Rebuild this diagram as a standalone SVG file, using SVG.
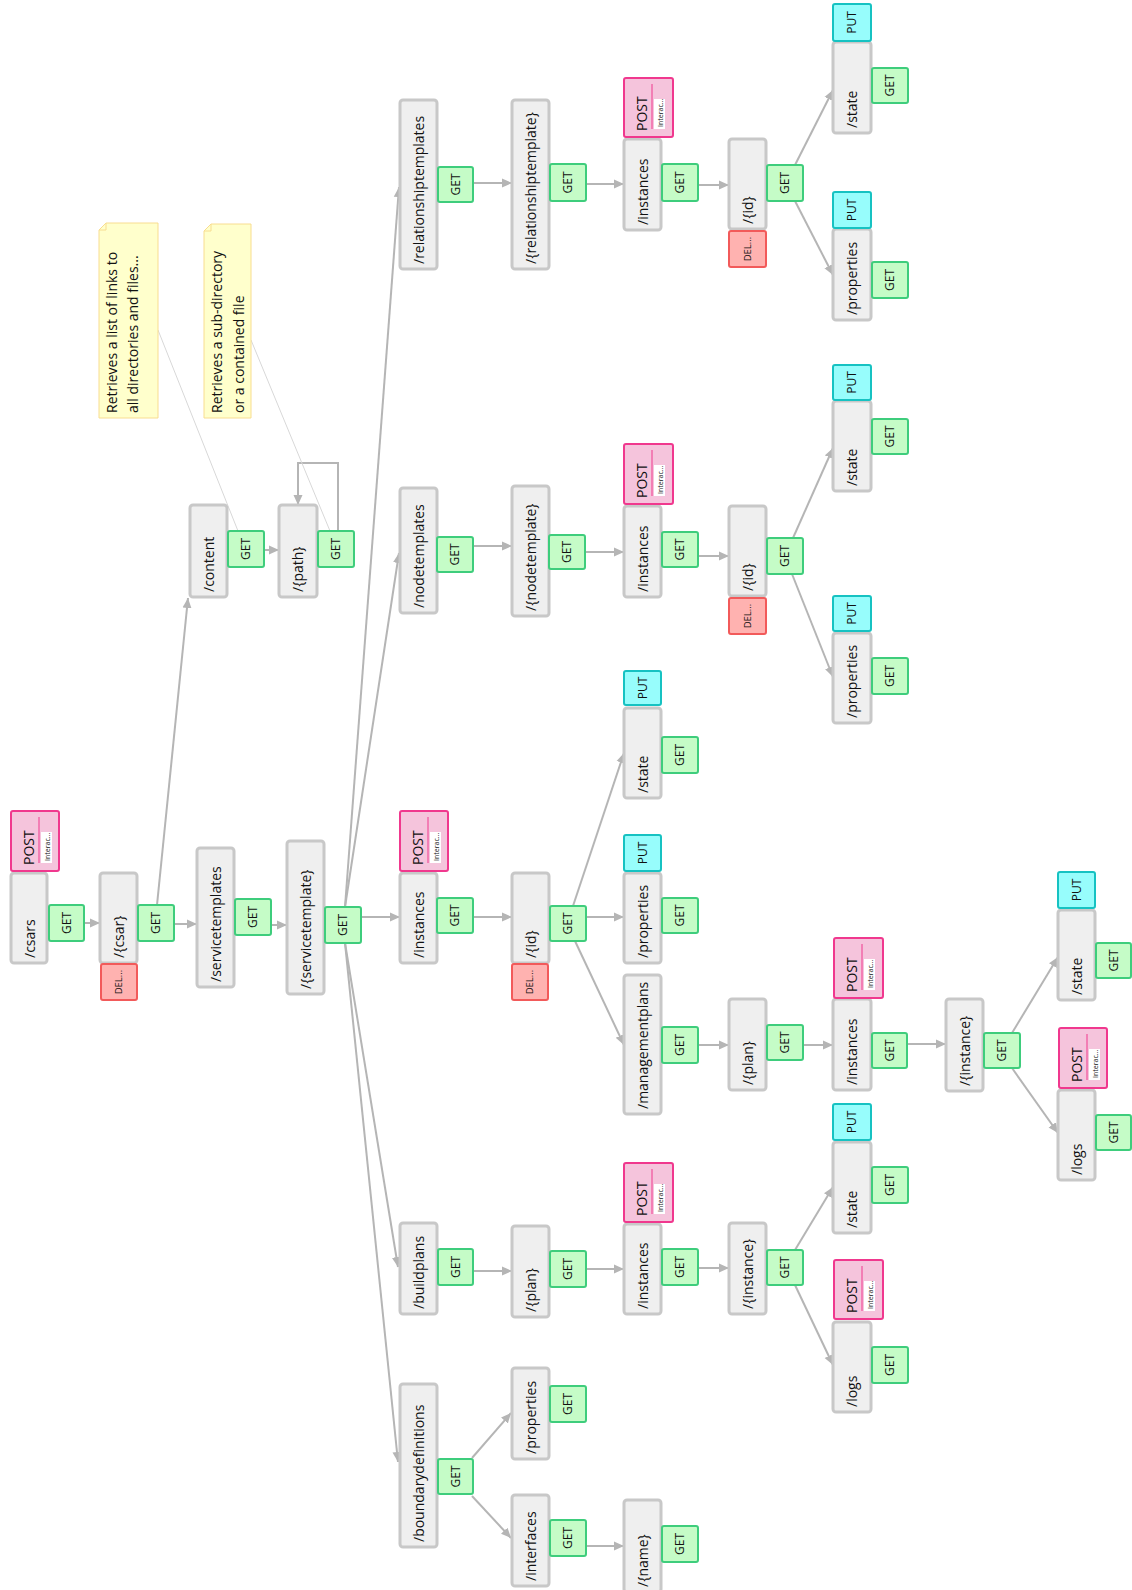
<svg xmlns="http://www.w3.org/2000/svg" width="1132" height="1590" viewBox="0 0 1132 1590">
<defs>
<style>
.t{font-family:"Open Sans","Noto Sans","Liberation Sans",sans-serif;fill:#111}
.lbl{font-size:14px}
.mc{font-size:12px;text-anchor:middle}
.dl{font-size:9.5px;text-anchor:middle}
.res{fill:#efefef;stroke:#c8c8c8;stroke-width:3}
.get rect{fill:#c5fcc7;stroke:#3ecd7c;stroke-width:2}
.put rect{fill:#97fdfc;stroke:#16c2c2;stroke-width:2}
.del rect{fill:#ffb2b0;stroke:#f25a5a;stroke-width:2}
.post>rect.b{fill:#f5c4dc;stroke:#f0388e;stroke-width:2}
.post line{stroke:#f0388e;stroke-width:1}
.post rect.w{fill:#fff}
.post .pt{font-size:14px}
.post .it{font-size:7px}
.note path.b{fill:#ffffcc;stroke:#f8dd90;stroke-width:1}
.note path.f{fill:none;stroke:#f8dd90;stroke-width:1}
.nl{stroke:#d8d8d8;stroke-width:1;fill:none}
</style>
<marker id="ah" markerUnits="userSpaceOnUse" markerWidth="12" markerHeight="10" refX="10" refY="5" orient="auto">
<path d="M0,0.5L10,5L0,9.5z" fill="#b5b5b5"/>
</marker>
</defs>
<rect width="1132" height="1590" fill="#fff"/>

<!-- connectors -->
<g id="connectors" fill="none" stroke="#b5b5b5" stroke-width="2">
<g marker-end="url(#ah)">
<path d="M84,923H100"/>
<path d="M174,924H197"/>
<path d="M157,905L188,598"/>
<path d="M271,925H287"/>
<path d="M264,550H279"/>
<path d="M338,531V463H298V505"/>
<path d="M345,907L399,187"/>
<path d="M345,907L399,553"/>
<path d="M361,917H400"/>
<path d="M345,943L398,1267"/>
<path d="M345,943L398,1462"/>
<path d="M473,183H512"/>
<path d="M586,184H624"/>
<path d="M698,185H729"/>
<path d="M795,165L833,90"/>
<path d="M795,201L833,275"/>
<path d="M473,546H512"/>
<path d="M585,552H624"/>
<path d="M698,556H729"/>
<path d="M793,538L833,448"/>
<path d="M792,574L833,677"/>
<path d="M473,917H512"/>
<path d="M573,906L624,753"/>
<path d="M586,917H624"/>
<path d="M575,941L624,1045"/>
<path d="M698,1045H729"/>
<path d="M803,1045H833"/>
<path d="M907,1044H946"/>
<path d="M1012,1033L1058,957"/>
<path d="M1012,1068L1058,1133"/>
<path d="M473,1271H512"/>
<path d="M586,1269H624"/>
<path d="M698,1268H729"/>
<path d="M795,1250L833,1187"/>
<path d="M795,1285L833,1365"/>
<path d="M472,1458L511,1413"/>
<path d="M472,1496L511,1538"/>
<path d="M586,1546H624"/>
</g>
</g>

<!-- note links -->
<g id="note-links">
<path class="nl" d="M158,330L238,531"/>
<path class="nl" d="M251,340L330,531"/>
</g>

<!-- notes -->
<g id="note-content" class="note">
<path class="b" d="M106,223H158V418H99V230Z"/>
<path class="f" d="M99,230H106V223"/>
<text class="t lbl" transform="translate(117,413) rotate(-90)">Retrieves a list of links to</text>
<text class="t lbl" transform="translate(138,413) rotate(-90)">all directories and files...</text>
</g>
<g id="note-path" class="note">
<path class="b" d="M211,224H251V418H204V231Z"/>
<path class="f" d="M204,231H211V224"/>
<text class="t lbl" transform="translate(222,413) rotate(-90)">Retrieves a sub-directory</text>
<text class="t lbl" transform="translate(244,413) rotate(-90)">or a contained file</text>
</g>

<!-- root -->
<g id="csars">
<rect class="res" x="11" y="873" width="36" height="90" rx="3"/>
<text class="t lbl" transform="translate(35,958) rotate(-90)">/csars</text>
<g class="post"><rect class="b" x="11" y="811" width="48" height="60" rx="2"/><text class="t pt" transform="translate(34,865) rotate(-90)">POST</text><line x1="39" y1="817" x2="39" y2="863"/><rect class="w" x="41" y="832" width="11" height="31"/><text class="t it" transform="translate(49.5,861) rotate(-90)">Interac...</text></g>
<g class="get"><rect x="49" y="905" width="35" height="36" rx="2"/><text class="t mc" transform="translate(70.8,923) rotate(-90)">GET</text></g>
</g>

<g id="csar">
<rect class="res" x="100" y="873" width="37" height="90" rx="3"/>
<text class="t lbl" transform="translate(124,958) rotate(-90)">/{csar}</text>
<g class="del"><rect x="101" y="964" width="36" height="36" rx="2"/><text class="t dl" transform="translate(122.4,982) rotate(-90)">DEL...</text></g>
<g class="get"><rect x="138" y="905" width="36" height="36" rx="2"/><text class="t mc" transform="translate(160.3,923) rotate(-90)">GET</text></g>
</g>

<g id="servicetemplates">
<rect class="res" x="197" y="848" width="37" height="139" rx="3"/>
<text class="t lbl" transform="translate(221,982) rotate(-90)">/servicetemplates</text>
<g class="get"><rect x="235" y="899" width="36" height="36" rx="2"/><text class="t mc" transform="translate(257.3,917) rotate(-90)">GET</text></g>
</g>

<g id="servicetemplate">
<rect class="res" x="287" y="841" width="37" height="153" rx="3"/>
<text class="t lbl" transform="translate(311,989) rotate(-90)">/{servicetemplate}</text>
<g class="get"><rect x="325" y="907" width="36" height="36" rx="2"/><text class="t mc" transform="translate(347.3,925) rotate(-90)">GET</text></g>
</g>

<g id="content">
<rect class="res" x="190" y="505" width="37" height="92" rx="3"/>
<text class="t lbl" transform="translate(214,592) rotate(-90)">/content</text>
<g class="get"><rect x="228" y="531" width="36" height="36" rx="2"/><text class="t mc" transform="translate(250.3,549) rotate(-90)">GET</text></g>
</g>

<g id="path">
<rect class="res" x="279" y="505" width="38" height="92" rx="3"/>
<text class="t lbl" transform="translate(303,592) rotate(-90)">/{path}</text>
<g class="get"><rect x="318" y="531" width="36" height="36" rx="2"/><text class="t mc" transform="translate(340.3,549) rotate(-90)">GET</text></g>
</g>

<!-- relationship templates -->
<g id="relationshiptemplates">
<rect class="res" x="400" y="100" width="37" height="169" rx="3"/>
<text class="t lbl" transform="translate(424,264) rotate(-90)">/relationshiptemplates</text>
<g class="get"><rect x="438" y="167" width="35" height="35" rx="2"/><text class="t mc" transform="translate(459.8,184.5) rotate(-90)">GET</text></g>
</g>

<g id="relationshiptemplate">
<rect class="res" x="512" y="100" width="37" height="169" rx="3"/>
<text class="t lbl" transform="translate(536,264) rotate(-90)">/{relationshiptemplate}</text>
<g class="get"><rect x="550" y="164" width="36" height="37" rx="2"/><text class="t mc" transform="translate(572.3,182.5) rotate(-90)">GET</text></g>
</g>

<g id="rt-instances">
<rect class="res" x="624" y="139" width="37" height="91" rx="3"/>
<text class="t lbl" transform="translate(648,225) rotate(-90)">/instances</text>
<g class="post"><rect class="b" x="624" y="78" width="49" height="59" rx="2"/><text class="t pt" transform="translate(647,131) rotate(-90)">POST</text><line x1="652" y1="84" x2="652" y2="129"/><rect class="w" x="654" y="99" width="11" height="30"/><text class="t it" transform="translate(662.5,127) rotate(-90)">Interac...</text></g>
<g class="get"><rect x="662" y="164" width="36" height="37" rx="2"/><text class="t mc" transform="translate(684.3,182.5) rotate(-90)">GET</text></g>
</g>

<g id="rt-id">
<rect class="res" x="729" y="139" width="37" height="90" rx="3"/>
<text class="t lbl" transform="translate(753,224) rotate(-90)">/{id}</text>
<g class="del"><rect x="729" y="231" width="37" height="36" rx="2"/><text class="t dl" transform="translate(750.9,249) rotate(-90)">DEL...</text></g>
<g class="get"><rect x="767" y="165" width="36" height="36" rx="2"/><text class="t mc" transform="translate(789.3,183) rotate(-90)">GET</text></g>
</g>

<g id="rt-state">
<rect class="res" x="833" y="42" width="38" height="91" rx="3"/>
<text class="t lbl" transform="translate(857,128) rotate(-90)">/state</text>
<g class="put"><rect x="833" y="4" width="38" height="37" rx="2"/><text class="t mc" transform="translate(856.3,22.5) rotate(-90)">PUT</text></g>
<g class="get"><rect x="872" y="68" width="36" height="35" rx="2"/><text class="t mc" transform="translate(894.3,85.5) rotate(-90)">GET</text></g>
</g>

<g id="rt-properties">
<rect class="res" x="833" y="229" width="38" height="91" rx="3"/>
<text class="t lbl" transform="translate(857,315) rotate(-90)">/properties</text>
<g class="put"><rect x="833" y="192" width="38" height="36" rx="2"/><text class="t mc" transform="translate(856.3,210) rotate(-90)">PUT</text></g>
<g class="get"><rect x="872" y="262" width="36" height="36" rx="2"/><text class="t mc" transform="translate(894.3,280) rotate(-90)">GET</text></g>
</g>

<!-- node templates -->
<g id="nodetemplates">
<rect class="res" x="400" y="488" width="37" height="125" rx="3"/>
<text class="t lbl" transform="translate(424,608) rotate(-90)">/nodetemplates</text>
<g class="get"><rect x="437" y="537" width="36" height="35" rx="2"/><text class="t mc" transform="translate(459.3,554.5) rotate(-90)">GET</text></g>
</g>

<g id="nodetemplate">
<rect class="res" x="512" y="486" width="37" height="130" rx="3"/>
<text class="t lbl" transform="translate(536,611) rotate(-90)">/{nodetemplate}</text>
<g class="get"><rect x="549" y="535" width="36" height="34" rx="2"/><text class="t mc" transform="translate(571.3,552) rotate(-90)">GET</text></g>
</g>

<g id="nt-instances">
<rect class="res" x="624" y="506" width="37" height="91" rx="3"/>
<text class="t lbl" transform="translate(648,592) rotate(-90)">/instances</text>
<g class="post"><rect class="b" x="624" y="444" width="49" height="60" rx="2"/><text class="t pt" transform="translate(647,498) rotate(-90)">POST</text><line x1="652" y1="450" x2="652" y2="496"/><rect class="w" x="654" y="465" width="11" height="31"/><text class="t it" transform="translate(662.5,494) rotate(-90)">Interac...</text></g>
<g class="get"><rect x="662" y="532" width="36" height="35" rx="2"/><text class="t mc" transform="translate(684.3,549.5) rotate(-90)">GET</text></g>
</g>

<g id="nt-id">
<rect class="res" x="729" y="506" width="37" height="90" rx="3"/>
<text class="t lbl" transform="translate(753,591) rotate(-90)">/{id}</text>
<g class="del"><rect x="729" y="598" width="37" height="36" rx="2"/><text class="t dl" transform="translate(750.9,616) rotate(-90)">DEL...</text></g>
<g class="get"><rect x="767" y="538" width="36" height="36" rx="2"/><text class="t mc" transform="translate(789.3,556) rotate(-90)">GET</text></g>
</g>

<g id="nt-state">
<rect class="res" x="833" y="401" width="38" height="90" rx="3"/>
<text class="t lbl" transform="translate(857,486) rotate(-90)">/state</text>
<g class="put"><rect x="833" y="365" width="38" height="35" rx="2"/><text class="t mc" transform="translate(856.3,382.5) rotate(-90)">PUT</text></g>
<g class="get"><rect x="872" y="419" width="36" height="35" rx="2"/><text class="t mc" transform="translate(894.3,436.5) rotate(-90)">GET</text></g>
</g>

<g id="nt-properties">
<rect class="res" x="833" y="633" width="38" height="90" rx="3"/>
<text class="t lbl" transform="translate(857,718) rotate(-90)">/properties</text>
<g class="put"><rect x="833" y="596" width="38" height="35" rx="2"/><text class="t mc" transform="translate(856.3,613.5) rotate(-90)">PUT</text></g>
<g class="get"><rect x="872" y="658" width="36" height="36" rx="2"/><text class="t mc" transform="translate(894.3,676) rotate(-90)">GET</text></g>
</g>

<!-- service template instances -->
<g id="st-instances">
<rect class="res" x="400" y="873" width="37" height="90" rx="3"/>
<text class="t lbl" transform="translate(424,958) rotate(-90)">/instances</text>
<g class="post"><rect class="b" x="400" y="811" width="48" height="60" rx="2"/><text class="t pt" transform="translate(423,865) rotate(-90)">POST</text><line x1="428" y1="817" x2="428" y2="863"/><rect class="w" x="430" y="832" width="11" height="31"/><text class="t it" transform="translate(438.5,861) rotate(-90)">Interac...</text></g>
<g class="get"><rect x="437" y="898" width="36" height="35" rx="2"/><text class="t mc" transform="translate(459.3,915.5) rotate(-90)">GET</text></g>
</g>

<g id="st-id">
<rect class="res" x="512" y="873" width="37" height="90" rx="3"/>
<text class="t lbl" transform="translate(536,958) rotate(-90)">/{id}</text>
<g class="del"><rect x="512" y="964" width="36" height="36" rx="2"/><text class="t dl" transform="translate(533.4,982) rotate(-90)">DEL...</text></g>
<g class="get"><rect x="550" y="906" width="36" height="35" rx="2"/><text class="t mc" transform="translate(572.3,923.5) rotate(-90)">GET</text></g>
</g>

<g id="st-state">
<rect class="res" x="624" y="708" width="37" height="90" rx="3"/>
<text class="t lbl" transform="translate(648,793) rotate(-90)">/state</text>
<g class="put"><rect x="624" y="671" width="37" height="34" rx="2"/><text class="t mc" transform="translate(646.8,688) rotate(-90)">PUT</text></g>
<g class="get"><rect x="662" y="737" width="36" height="36" rx="2"/><text class="t mc" transform="translate(684.3,755) rotate(-90)">GET</text></g>
</g>

<g id="st-properties">
<rect class="res" x="624" y="873" width="37" height="90" rx="3"/>
<text class="t lbl" transform="translate(648,958) rotate(-90)">/properties</text>
<g class="put"><rect x="624" y="835" width="37" height="36" rx="2"/><text class="t mc" transform="translate(646.8,853) rotate(-90)">PUT</text></g>
<g class="get"><rect x="662" y="898" width="36" height="35" rx="2"/><text class="t mc" transform="translate(684.3,915.5) rotate(-90)">GET</text></g>
</g>

<g id="managementplans">
<rect class="res" x="624" y="975" width="37" height="139" rx="3"/>
<text class="t lbl" transform="translate(648,1109) rotate(-90)">/managementplans</text>
<g class="get"><rect x="662" y="1027" width="36" height="36" rx="2"/><text class="t mc" transform="translate(684.3,1045) rotate(-90)">GET</text></g>
</g>

<g id="mp-plan">
<rect class="res" x="729" y="999" width="37" height="91" rx="3"/>
<text class="t lbl" transform="translate(753,1085) rotate(-90)">/{plan}</text>
<g class="get"><rect x="767" y="1025" width="36" height="35" rx="2"/><text class="t mc" transform="translate(789.3,1042.5) rotate(-90)">GET</text></g>
</g>

<g id="mp-instances">
<rect class="res" x="833" y="999" width="38" height="91" rx="3"/>
<text class="t lbl" transform="translate(857,1085) rotate(-90)">/instances</text>
<g class="post"><rect class="b" x="834" y="938" width="49" height="60" rx="2"/><text class="t pt" transform="translate(857,992) rotate(-90)">POST</text><line x1="862" y1="944" x2="862" y2="990"/><rect class="w" x="864" y="959" width="11" height="31"/><text class="t it" transform="translate(872.5,988) rotate(-90)">Interac...</text></g>
<g class="get"><rect x="872" y="1033" width="35" height="35" rx="2"/><text class="t mc" transform="translate(893.8,1050.5) rotate(-90)">GET</text></g>
</g>

<g id="mp-instance">
<rect class="res" x="946" y="999" width="37" height="92" rx="3"/>
<text class="t lbl" transform="translate(970,1086) rotate(-90)">/{instance}</text>
<g class="get"><rect x="984" y="1033" width="36" height="35" rx="2"/><text class="t mc" transform="translate(1006.3,1050.5) rotate(-90)">GET</text></g>
</g>

<g id="mp-state">
<rect class="res" x="1058" y="910" width="37" height="90" rx="3"/>
<text class="t lbl" transform="translate(1082,995) rotate(-90)">/state</text>
<g class="put"><rect x="1058" y="872" width="37" height="36" rx="2"/><text class="t mc" transform="translate(1080.8,890) rotate(-90)">PUT</text></g>
<g class="get"><rect x="1096" y="943" width="35" height="35" rx="2"/><text class="t mc" transform="translate(1117.8,960.5) rotate(-90)">GET</text></g>
</g>

<g id="mp-logs">
<rect class="res" x="1058" y="1090" width="37" height="90" rx="3"/>
<text class="t lbl" transform="translate(1082,1175) rotate(-90)">/logs</text>
<g class="post"><rect class="b" x="1059" y="1028" width="48" height="60" rx="2"/><text class="t pt" transform="translate(1082,1082) rotate(-90)">POST</text><line x1="1087" y1="1034" x2="1087" y2="1080"/><rect class="w" x="1089" y="1049" width="11" height="31"/><text class="t it" transform="translate(1097.5,1078) rotate(-90)">Interac...</text></g>
<g class="get"><rect x="1096" y="1115" width="35" height="35" rx="2"/><text class="t mc" transform="translate(1117.8,1132.5) rotate(-90)">GET</text></g>
</g>

<!-- build plans -->
<g id="buildplans">
<rect class="res" x="400" y="1223" width="37" height="91" rx="3"/>
<text class="t lbl" transform="translate(424,1309) rotate(-90)">/buildplans</text>
<g class="get"><rect x="438" y="1249" width="35" height="36" rx="2"/><text class="t mc" transform="translate(459.8,1267) rotate(-90)">GET</text></g>
</g>

<g id="bp-plan">
<rect class="res" x="512" y="1226" width="37" height="91" rx="3"/>
<text class="t lbl" transform="translate(536,1312) rotate(-90)">/{plan}</text>
<g class="get"><rect x="550" y="1251" width="36" height="36" rx="2"/><text class="t mc" transform="translate(572.3,1269) rotate(-90)">GET</text></g>
</g>

<g id="bp-instances">
<rect class="res" x="624" y="1224" width="37" height="90" rx="3"/>
<text class="t lbl" transform="translate(648,1309) rotate(-90)">/instances</text>
<g class="post"><rect class="b" x="624" y="1163" width="49" height="59" rx="2"/><text class="t pt" transform="translate(647,1216) rotate(-90)">POST</text><line x1="652" y1="1169" x2="652" y2="1214"/><rect class="w" x="654" y="1184" width="11" height="30"/><text class="t it" transform="translate(662.5,1212) rotate(-90)">Interac...</text></g>
<g class="get"><rect x="662" y="1249" width="36" height="36" rx="2"/><text class="t mc" transform="translate(684.3,1267) rotate(-90)">GET</text></g>
</g>

<g id="bp-instance">
<rect class="res" x="729" y="1223" width="37" height="91" rx="3"/>
<text class="t lbl" transform="translate(753,1309) rotate(-90)">/{instance}</text>
<g class="get"><rect x="767" y="1250" width="36" height="35" rx="2"/><text class="t mc" transform="translate(789.3,1267.5) rotate(-90)">GET</text></g>
</g>

<g id="bp-state">
<rect class="res" x="833" y="1142" width="38" height="91" rx="3"/>
<text class="t lbl" transform="translate(857,1228) rotate(-90)">/state</text>
<g class="put"><rect x="833" y="1104" width="38" height="36" rx="2"/><text class="t mc" transform="translate(856.3,1122) rotate(-90)">PUT</text></g>
<g class="get"><rect x="872" y="1167" width="36" height="36" rx="2"/><text class="t mc" transform="translate(894.3,1185) rotate(-90)">GET</text></g>
</g>

<g id="bp-logs">
<rect class="res" x="833" y="1322" width="38" height="90" rx="3"/>
<text class="t lbl" transform="translate(857,1407) rotate(-90)">/logs</text>
<g class="post"><rect class="b" x="834" y="1260" width="49" height="59" rx="2"/><text class="t pt" transform="translate(857,1313) rotate(-90)">POST</text><line x1="862" y1="1266" x2="862" y2="1311"/><rect class="w" x="864" y="1281" width="11" height="30"/><text class="t it" transform="translate(872.5,1309) rotate(-90)">Interac...</text></g>
<g class="get"><rect x="872" y="1347" width="36" height="36" rx="2"/><text class="t mc" transform="translate(894.3,1365) rotate(-90)">GET</text></g>
</g>

<!-- boundary definitions -->
<g id="boundarydefinitions">
<rect class="res" x="400" y="1384" width="37" height="163" rx="3"/>
<text class="t lbl" transform="translate(424,1542) rotate(-90)">/boundarydefinitions</text>
<g class="get"><rect x="438" y="1459" width="35" height="35" rx="2"/><text class="t mc" transform="translate(459.8,1476.5) rotate(-90)">GET</text></g>
</g>

<g id="bd-properties">
<rect class="res" x="512" y="1368" width="37" height="91" rx="3"/>
<text class="t lbl" transform="translate(536,1454) rotate(-90)">/properties</text>
<g class="get"><rect x="550" y="1386" width="36" height="36" rx="2"/><text class="t mc" transform="translate(572.3,1404) rotate(-90)">GET</text></g>
</g>

<g id="bd-interfaces">
<rect class="res" x="512" y="1495" width="37" height="91" rx="3"/>
<text class="t lbl" transform="translate(536,1581) rotate(-90)">/interfaces</text>
<g class="get"><rect x="550" y="1520" width="36" height="36" rx="2"/><text class="t mc" transform="translate(572.3,1538) rotate(-90)">GET</text></g>
</g>

<g id="bd-name">
<rect class="res" x="624" y="1500" width="37" height="92" rx="3"/>
<text class="t lbl" transform="translate(648,1587) rotate(-90)">/{name}</text>
<g class="get"><rect x="662" y="1526" width="36" height="36" rx="2"/><text class="t mc" transform="translate(684.3,1544) rotate(-90)">GET</text></g>
</g>
</svg>
